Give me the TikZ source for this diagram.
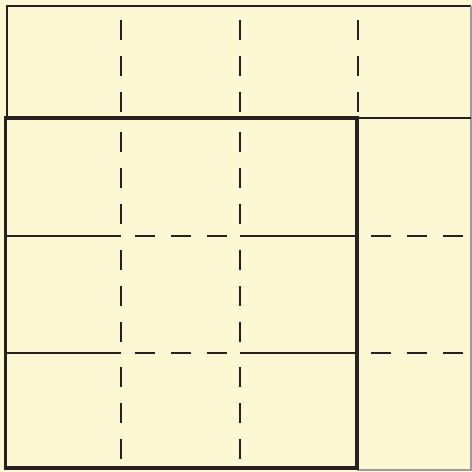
\documentclass[tikz,border=0pt]{standalone}
\definecolor{paper}{RGB}{253,248,212}
\definecolor{ink}{RGB}{38,32,32}
\begin{document}
\begin{tikzpicture}[x=1pt,y=-1pt,
  thin line/.style={draw=ink,line width=1.8pt},
  faint line/.style={draw=ink!45,line width=1.2pt},
  thick line/.style={draw=ink,line width=3.6pt},
  mid line/.style={draw=ink,line width=2.2pt},
  dash line/.style={draw=ink,line width=2pt,dash pattern=on 20pt off 16pt,dash phase=22pt}]
\fill[paper] (0,0) rectangle (472,472);
\useasboundingbox (0,0) rectangle (472,472);
% outer border
\draw[thin line] (471,6) -- (7,6) -- (7,118);
\draw[faint line] (471,6) -- (471,470) -- (357,470);
% top strip separator (right part)
\draw[thin line] (357,118) -- (471,118);
% dashed verticals in the top strip
\foreach \x in {121,240,358} \draw[dash line] (\x,6) -- (\x,120);
% solid horizontals inside the thick square
\draw[mid line] (6,236) -- (121,236);
\draw[mid line] (240,236) -- (357,236);
\draw[mid line] (6,353) -- (121,353);
\draw[mid line] (240,353) -- (357,353);
% dashed horizontals
\foreach \y in {236,353} {
  \draw[dash line] (121,\y) -- (240,\y);
  \draw[dash line] (357,\y) -- (471,\y);
}
% dashed verticals inside the square
\foreach \x in {121,240} {
  \draw[dash line] (\x,118) -- (\x,236);
  \draw[dash line] (\x,236) -- (\x,353);
  \draw[dash line] (\x,353) -- (\x,468);
}
% thick square
\draw[thick line] (5.5,118) rectangle (357,468);
\end{tikzpicture}
\end{document}
